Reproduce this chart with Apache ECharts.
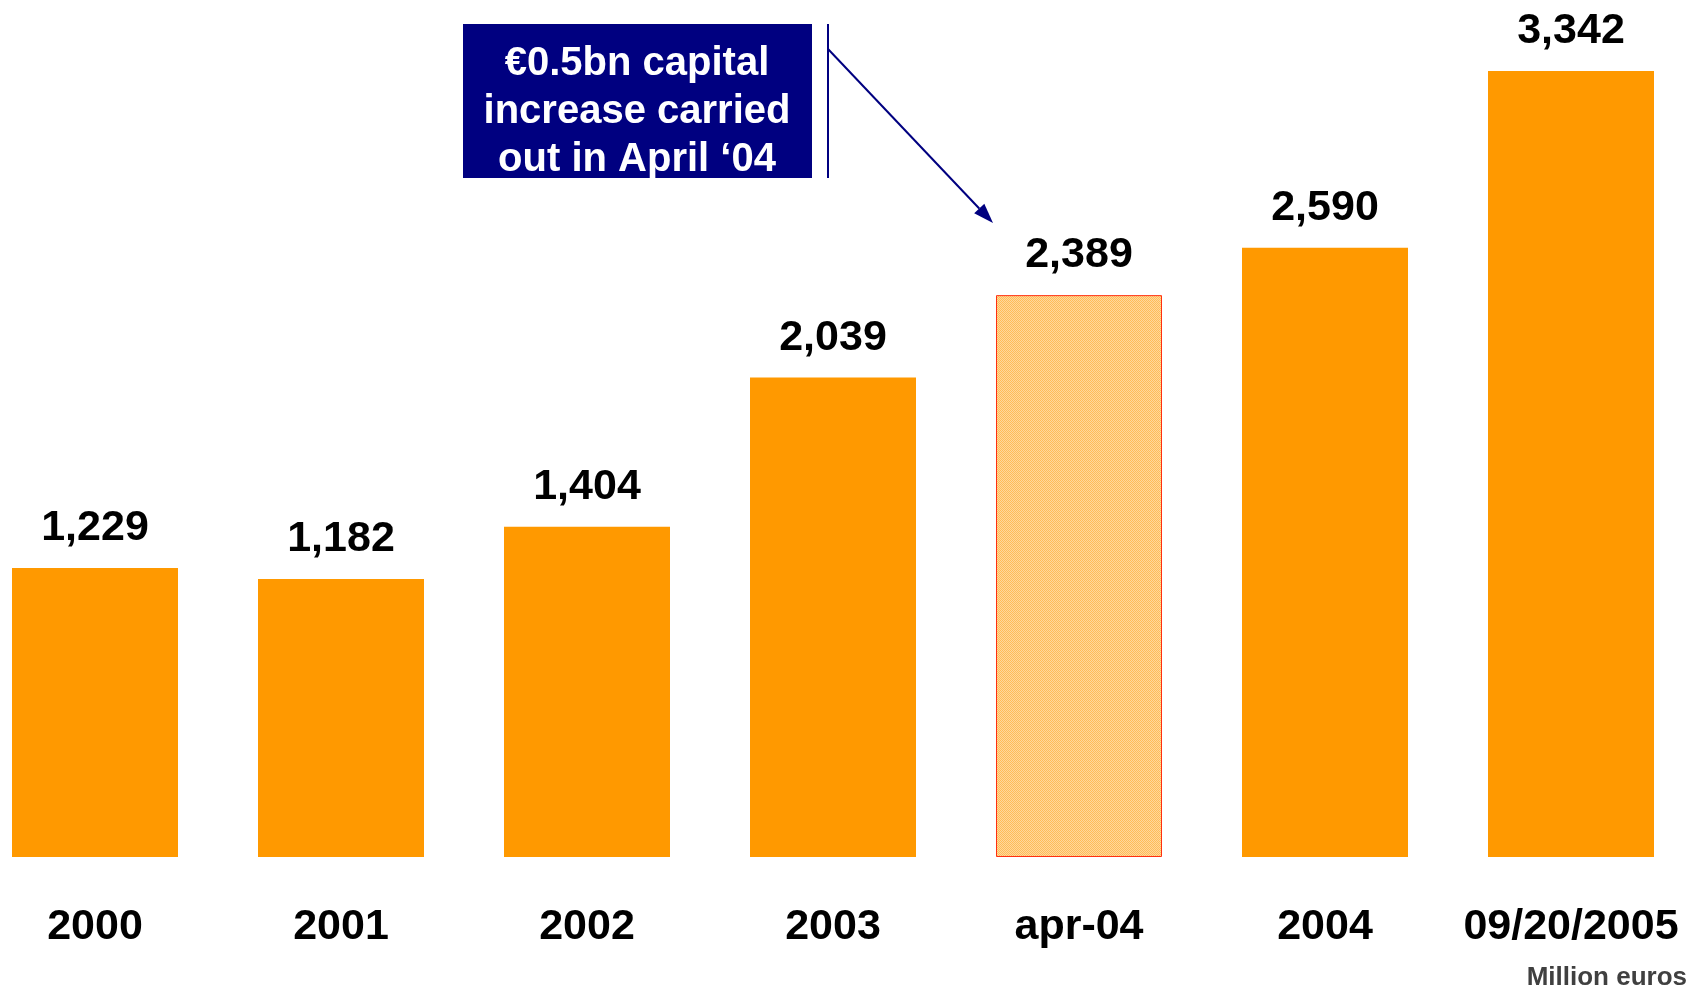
<!DOCTYPE html>
<html>
<head>
<meta charset="utf-8">
<title>Capital</title>
<script src="https://cdn.jsdelivr.net/npm/echarts@6/dist/echarts.min.js"></script>
<style>
  html, body { margin: 0; padding: 0; background: #fff; }
  #chart { width: 1691px; height: 988px; }
</style>
</head>
<body>
<div id="chart"></div>
<script>
var categories = ['2000', '2001', '2002', '2003', 'apr-04', '2004', '09/20/2005'];
var values = [1229, 1182, 1404, 2039, 2389, 2590, 3342];
var hatchedCategory = 'apr-04';
var noteLines = ['€0.5bn capital', 'increase carried', 'out in April \u201804'];
var unitText = 'Million euros';

var FONT = '"Liberation Sans", Arial, Helvetica, sans-serif';
var NAVY = '#000080';

// small dotted tile for the hatched bar
var makeHatch = () => {
  var c = document.createElement('canvas');
  c.width = 2; c.height = 2;
  var ctx = c.getContext('2d');
  ctx.fillStyle = '#ffbc58';
  ctx.fillRect(0, 0, 1, 1);
  ctx.fillRect(1, 1, 1, 1);
  ctx.fillStyle = '#ffd89c';
  ctx.fillRect(1, 0, 1, 1);
  ctx.fillRect(0, 1, 1, 1);
  return c;
};

var chart = echarts.init(document.getElementById('chart'), null, { renderer: 'canvas' });

var barData = values.map((v, i) => {
  if (categories[i] !== hatchedCategory) return v;
  return {
    value: v,
    itemStyle: {
      color: { image: makeHatch(), repeat: 'repeat' },
      borderColor: '#ff3010',
      borderWidth: 1
    }
  };
});

// arrow from the note to the hatched bar
var arrowFrom = [828, 49];
var arrowTo = [993, 223];
var dx = arrowTo[0] - arrowFrom[0], dy = arrowTo[1] - arrowFrom[1];
var len = Math.sqrt(dx * dx + dy * dy);
var ux = dx / len, uy = dy / len;
var headLen = 20, headHalf = 7;
var bx = arrowTo[0] - ux * headLen, by = arrowTo[1] - uy * headLen;
var head = [
  arrowTo,
  [bx - uy * headHalf, by + ux * headHalf],
  [bx + uy * headHalf, by - ux * headHalf]
];

var option = {
  backgroundColor: '#ffffff',
  animation: false,
  grid: { left: -28, width: 1722, top: 71, bottom: 131, containLabel: false, outerBoundsMode: 'none' },
  xAxis: {
    type: 'category',
    data: categories,
    axisLine: { show: false },
    axisTick: { show: false },
    axisLabel: {
      interval: 0,
      margin: 49,
      color: '#000',
      fontFamily: FONT,
      fontWeight: 'bold',
      fontSize: 43
    }
  },
  yAxis: {
    type: 'value',
    min: 0,
    max: Math.max.apply(null, values),
    show: false,
    splitLine: { show: false }
  },
  series: [
    {
      type: 'bar',
      data: barData,
      barWidth: 166,
      itemStyle: { color: '#ff9900' },
      label: {
        show: true,
        position: 'top',
        distance: 18,
        color: '#000',
        fontFamily: FONT,
        fontWeight: 'bold',
        fontSize: 43,
        formatter: p => p.value.toLocaleString('en-US')
      }
    }
  ],
  graphic: [
    {
      type: 'rect',
      shape: { x: 463, y: 24, width: 349, height: 154 },
      style: { fill: NAVY }
    },
    {
      type: 'text',
      x: 637,
      y: 112,
      style: {
        text: noteLines.join('\n'),
        fill: '#fff',
        font: 'bold 40px ' + FONT,
        lineHeight: 48,
        align: 'center',
        verticalAlign: 'middle'
      }
    },
    {
      type: 'line',
      shape: { x1: 828, y1: 24, x2: 828, y2: 178 },
      style: { stroke: NAVY, lineWidth: 2 }
    },
    {
      type: 'line',
      shape: { x1: arrowFrom[0], y1: arrowFrom[1], x2: bx, y2: by },
      style: { stroke: NAVY, lineWidth: 2 }
    },
    {
      type: 'polygon',
      shape: { points: head },
      style: { fill: NAVY }
    },
    {
      type: 'text',
      right: 4,
      bottom: -3,
      style: {
        text: unitText,
        fill: '#404040',
        font: 'bold 26px ' + FONT
      }
    }
  ]
};

chart.setOption(option);
</script>
</body>
</html>
